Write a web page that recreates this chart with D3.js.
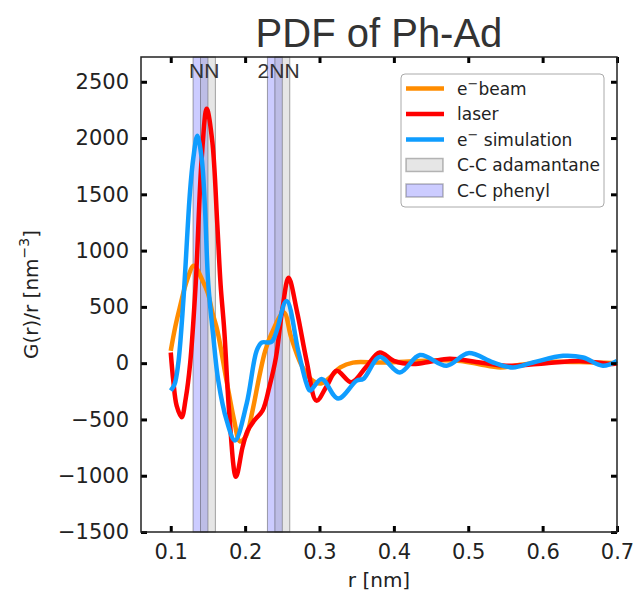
<!DOCTYPE html>
<html>
<head>
<meta charset="utf-8">
<script src="https://cdn.jsdelivr.net/npm/d3@7"></script>
<style>
  body { margin: 0; background: white; }
  text { font-family: "DejaVu Sans", sans-serif; }
</style>
</head>
<body>
<div id="chart"></div>
<script>
// e- beam (orange)
var beamR = [0.100, 0.106, 0.112, 0.122, 0.131, 0.143, 0.150, 0.156, 0.163, 0.175, 0.185, 0.193, 0.201, 0.210,
             0.219, 0.227, 0.236, 0.252, 0.262, 0.275, 0.288, 0.302, 0.315, 0.328, 0.345, 0.38, 0.42, 0.46,
             0.49, 0.515, 0.543, 0.57, 0.60, 0.65, 0.70];
var beamG = [110, 320, 490, 740, 865, 730, 620, 450, 280, -155, -500, -695, -650, -420,
             -120, 110, 271, 450, 227, -8, -140, -180, -120, -38, 5, 5, 15, 25,
             20, -10, -38, -15, 10, 10, 0];

// laser (red)
var laserR = [0.100, 0.1034, 0.108, 0.1147, 0.120, 0.126, 0.1335, 0.1416, 0.1484, 0.1559, 0.1626, 0.167, 0.172,
              0.1787, 0.1877, 0.1966, 0.2033, 0.2123, 0.2235, 0.2324, 0.2414, 0.2503, 0.2584, 0.270, 0.2827,
              0.296, 0.310, 0.323, 0.343, 0.362, 0.381, 0.40, 0.426, 0.450, 0.475, 0.516, 0.551, 0.605,
              0.65, 0.694, 0.70];
var laserG = [95, -155, -380, -480, -320, -8, 700, 1819, 2261, 1966, 1230, 700, 287,
              -450, -1010, -745, -600, -509, -420, -215, 50, 492, 758, 450, 20,
              -333, -200, -67, -170, -40, 95, 20, -8, 15, 39, 6, -23, 0,
              20, -8, 0];

// e- simulation (blue)
var simR = [0.100, 0.105, 0.110, 0.117, 0.1259, 0.1303, 0.1357, 0.1416, 0.146, 0.1505, 0.157, 0.1639, 0.1752,
            0.1863, 0.202, 0.2155, 0.2222, 0.2357, 0.2556, 0.2714, 0.2827, 0.2872, 0.3029, 0.325, 0.350,
            0.359, 0.381, 0.408, 0.435, 0.471, 0.50, 0.5335, 0.560, 0.587, 0.6276, 0.6545, 0.681, 0.70];
var simG = [-244, -190, -8, 560, 1524, 1819, 2020, 1819, 1378, 700, 250, -155, -509,
            -686, -362, 110, 183, 190, 552, 110, -185, -244, -140, -315, -155,
            -140, 55, -82, 72, -23, 89, 6, -38, 6, 65, 50, -23, 20];

// reference bands
var bandNames = ["C-C adamantane", "C-C phenyl"];
var adamantaneSpans = [[0.14, 0.16], [0.24, 0.26]];
var phenylSpans = [[0.13, 0.15], [0.23, 0.25]];
var bandLabels = ["NN", "2NN"];
var bandLabelR = [0.145, 0.245];

var xTicks = [0.1, 0.2, 0.3, 0.4, 0.5, 0.6, 0.7];
var yTicks = [-1500, -1000, -500, 0, 500, 1000, 1500, 2000, 2500];

var W = 637, H = 592;
var margin = {top: 57, right: 20, bottom: 60, left: 141};

var svg = d3.select("#chart").append("svg")
  .attr("width", W)
  .attr("height", H);

var x = d3.scaleLinear().domain([0.06, 0.7]).range([margin.left, W - margin.right]);
var y = d3.scaleLinear().domain([-1500, 2720]).range([H - margin.bottom, margin.top]);

// bands
function drawSpans(spans, fill, op) {
  svg.append("g").selectAll("rect")
    .data(spans)
    .enter()
    .append("rect")
    .attr("x", function(d) { return x(d[0]); })
    .attr("y", margin.top)
    .attr("width", function(d) { return x(d[1]) - x(d[0]); })
    .attr("height", H - margin.bottom - margin.top)
    .attr("fill", fill)
    .attr("fill-opacity", op)
    .attr("stroke", "rgba(60,60,60,0.45)")
    .attr("stroke-width", 1);
}
drawSpans(phenylSpans, "blue", 0.2);
drawSpans(adamantaneSpans, "gray", 0.2);

svg.append("g").selectAll("text")
  .data(bandLabels)
  .enter()
  .append("text")
  .attr("x", function(d, i) { return x(bandLabelR[i]); })
  .attr("y", 78)
  .attr("text-anchor", "middle")
  .style("font-family", "'Liberation Sans', Arial, sans-serif")
  .style("font-size", "21px")
  .attr("fill", "#333")
  .text(function(d) { return d; });

// curves
var line = d3.line()
  .x(function(d) { return x(d[0]); })
  .y(function(d) { return y(d[1]); })
  .curve(d3.curveCatmullRom.alpha(0.5));

var series = [
  {r: beamR, g: beamG, color: "#ff8c00"},
  {r: laserR, g: laserG, color: "#ff0000"},
  {r: simR, g: simG, color: "#0f9dff"}
];

series.forEach(function(s) {
  svg.append("path")
    .datum(d3.zip(s.r, s.g))
    .attr("d", line)
    .attr("fill", "none")
    .attr("stroke", s.color)
    .attr("stroke-width", 4.5)
    .attr("stroke-linejoin", "round");
});

// axes (ticks inward on all four sides)
var gx = svg.append("g")
  .attr("transform", "translate(0," + (H - margin.bottom) + ")")
  .call(d3.axisBottom(x).tickValues(xTicks).tickFormat(d3.format(".1f")).tickSizeInner(-6).tickSizeOuter(0).tickPadding(12));
var gxt = svg.append("g")
  .attr("transform", "translate(0," + margin.top + ")")
  .call(d3.axisTop(x).tickValues(xTicks).tickFormat("").tickSizeInner(-6).tickSizeOuter(0));
var gy = svg.append("g")
  .attr("transform", "translate(" + margin.left + ",0)")
  .call(d3.axisLeft(y).tickValues(yTicks).tickFormat(d3.format("d")).tickSizeInner(-6).tickSizeOuter(0).tickPadding(12));
var gyr = svg.append("g")
  .attr("transform", "translate(" + (W - margin.right) + ",0)")
  .call(d3.axisRight(y).tickValues(yTicks).tickFormat("").tickSizeInner(-6).tickSizeOuter(0));

[gx, gxt, gy, gyr].forEach(function(g) {
  g.select(".domain").remove();
  g.selectAll(".tick line").attr("stroke", "#000").attr("stroke-width", 3);
  g.selectAll(".tick text").attr("fill", "#222").style("font-size", "21px").style("font-family", "'DejaVu Sans', sans-serif");
});

svg.append("rect")
  .attr("x", margin.left)
  .attr("y", margin.top)
  .attr("width", W - margin.right - margin.left)
  .attr("height", H - margin.bottom - margin.top)
  .attr("fill", "none")
  .attr("stroke", "#222")
  .attr("stroke-width", 1.5);

// title and axis labels
svg.append("text")
  .attr("x", (margin.left + W - margin.right) / 2)
  .attr("y", 47)
  .attr("text-anchor", "middle")
  .style("font-family", "'Liberation Sans', Arial, sans-serif")
  .style("font-size", "40px")
  .attr("fill", "#333")
  .text("PDF of Ph-Ad");

svg.append("text")
  .attr("x", (margin.left + W - margin.right) / 2)
  .attr("y", 587)
  .attr("text-anchor", "middle")
  .style("font-size", "20px")
  .attr("fill", "#222")
  .text("r [nm]");

var yl = svg.append("text")
  .attr("transform", "translate(38," + ((margin.top + H - margin.bottom) / 2) + ") rotate(-90)")
  .attr("text-anchor", "middle")
  .style("font-size", "20px")
  .attr("fill", "#222");
yl.append("tspan").text("G(r)/r [nm");
yl.append("tspan").attr("dy", -9).style("font-size", "14px").text("\u22123");
yl.append("tspan").attr("dy", 9).text("]");

// legend
var lg = svg.append("g").attr("transform", "translate(401,74)");
lg.append("rect")
  .attr("width", 203)
  .attr("height", 133)
  .attr("rx", 4)
  .attr("fill", "white")
  .attr("fill-opacity", 0.8)
  .attr("stroke", "#aaa")
  .attr("stroke-width", 1);

var legendItems = [
  {kind: "line", color: "#ff8c00", pre: "e", sup: "\u2212", post: "beam"},
  {kind: "line", color: "#ff0000", pre: "laser", sup: "", post: ""},
  {kind: "line", color: "#0f9dff", pre: "e", sup: "\u2212", post: " simulation"},
  {kind: "patch", fill: "gray", op: 0.2, pre: bandNames[0], sup: "", post: ""},
  {kind: "patch", fill: "blue", op: 0.2, pre: bandNames[1], sup: "", post: ""}
];

legendItems.forEach(function(d, i) {
  var cy = 14.5 + i * 25.5;
  if (d.kind === "line") {
    lg.append("line")
      .attr("x1", 5).attr("x2", 43)
      .attr("y1", cy).attr("y2", cy)
      .attr("stroke", d.color)
      .attr("stroke-width", 4.5);
  } else {
    lg.append("rect")
      .attr("x", 5).attr("y", cy - 6.5)
      .attr("width", 37).attr("height", 13)
      .attr("fill", d.fill)
      .attr("fill-opacity", d.op)
      .attr("stroke", "rgba(60,60,60,0.35)")
      .attr("stroke-width", 1.5);
  }
  var t = lg.append("text")
    .attr("x", 56)
    .attr("y", cy + 6)
    .style("font-size", "17px")
    .attr("fill", "#222");
  t.append("tspan").text(d.pre);
  if (d.sup) {
    t.append("tspan").attr("dy", -7).style("font-size", "13px").text(d.sup);
    t.append("tspan").attr("dy", 7).text(d.post);
  }
});
</script>
</body>
</html>
